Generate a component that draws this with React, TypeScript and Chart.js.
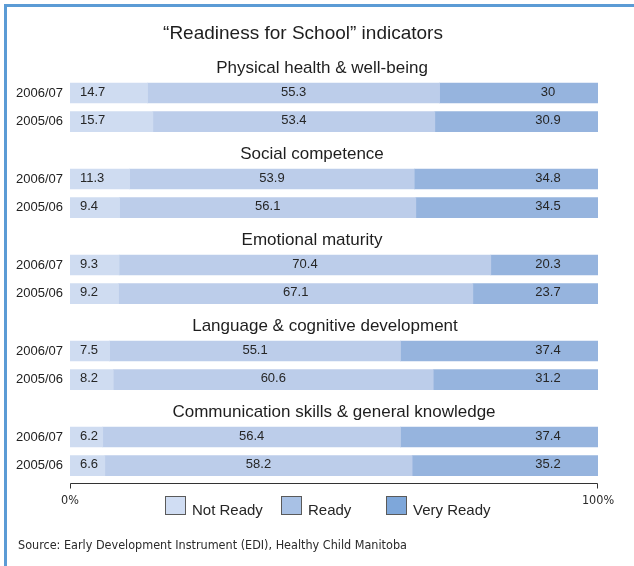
import React, { useEffect, useRef } from 'react';
import { Chart, registerables } from 'chart.js';

Chart.register(...registerables);

const chartTitle = '\u201CReadiness for School\u201D indicators';
const groups = [
  'Physical health & well-being',
  'Social competence',
  'Emotional maturity',
  'Language & cognitive development',
  'Communication skills & general knowledge',
];
const groupTitleCenters = [322, 312, 312, 325, 334];
const years = ['2006/07', '2005/06'];
const seriesNames = ['Not Ready', 'Ready', 'Very Ready'];
// rows in order: group1 2006/07, group1 2005/06, group2 2006/07, ...
const notReady = [14.7, 15.7, 11.3, 9.4, 9.3, 9.2, 7.5, 8.2, 6.2, 6.6];
const ready = [55.3, 53.4, 53.9, 56.1, 70.4, 67.1, 55.1, 60.6, 56.4, 58.2];
const veryReady = [30, 30.9, 34.8, 34.5, 20.3, 23.7, 37.4, 31.2, 37.4, 35.2];
const axisTicks = [0, 100];
const sourceText = 'Source: Early Development Instrument (EDI), Healthy Child Manitoba';

const barColors = ['#cfdcf1', '#bccdea', '#96b4de'];
const legendColors = ['#d0ddf3', '#a8c1e5', '#7ea7da'];
const FONT = "'Liberation Sans', Arial, sans-serif";
const SMALL_FONT = "'DejaVu Sans Condensed', 'DejaVu Sans', sans-serif";

// Build slot arrays: each group gets a title slot followed by one slot per year
const slotLabels: string[] = [];
const slotGroup: (number | null)[] = [];
const buildSeries = (vals: number[]) => {
  const out: (number | null)[] = [];
  groups.forEach((_, g) => {
    out.push(null);
    years.forEach((_, y) => out.push(vals[g * years.length + y]));
  });
  return out;
};
groups.forEach((_, g) => {
  slotLabels.push('');
  slotGroup.push(g);
  years.forEach((yr) => {
    slotLabels.push(yr);
    slotGroup.push(null);
  });
});
const seriesValues = [notReady, ready, veryReady];

const overlayPlugin = {
  id: 'overlay',
  afterDraw(chart: any) {
    const { ctx, chartArea } = chart;
    const xs = chart.scales.x;
    const ys = chart.scales.y;
    ctx.save();
    // main title
    ctx.fillStyle = '#1e1e1e';
    ctx.textAlign = 'center';
    ctx.textBaseline = 'middle';
    ctx.font = `19px ${FONT}`;
    ctx.fillText(chartTitle, 303, 34);
    // group titles
    ctx.font = `17px ${FONT}`;
    slotGroup.forEach((g, i) => {
      if (g === null) return;
      const y = ys.getPixelForValue(i) + 3.5;
      ctx.fillText(groups[g], groupTitleCenters[g], y);
    });
    // data labels
    ctx.font = `13px ${FONT}`;
    ctx.fillStyle = '#262626';
    chart.data.datasets.forEach((ds: any, di: number) => {
      const meta = chart.getDatasetMeta(di);
      meta.data.forEach((el: any, i: number) => {
        const v = ds.data[i];
        if (v === null || v === undefined) return;
        const props = el.getProps(['x', 'y', 'base'], true);
        const y = props.y - 1;
        const txt = String(v);
        if (di === 0) {
          ctx.textAlign = 'left';
          ctx.fillText(txt, props.base + 10, y);
        } else if (di === 1) {
          ctx.textAlign = 'center';
          ctx.fillText(txt, (props.base + props.x) / 2, y);
        } else {
          ctx.textAlign = 'center';
          ctx.fillText(txt, chartArea.right - 50, y);
        }
      });
    });
    // axis line with end ticks
    const ay = Math.round(chartArea.bottom + 2.5) + 0.5;
    const x0 = Math.round(xs.getPixelForValue(axisTicks[0])) + 0.5;
    const x1 = Math.round(xs.getPixelForValue(axisTicks[axisTicks.length - 1])) - 0.5;
    ctx.strokeStyle = '#333333';
    ctx.lineWidth = 1;
    ctx.beginPath();
    ctx.moveTo(x0, ay + 5);
    ctx.lineTo(x0, ay);
    ctx.lineTo(x1, ay);
    ctx.lineTo(x1, ay + 5);
    ctx.stroke();
    // legend
    const boxX = [165, 281, 386];
    ctx.font = `15px ${FONT}`;
    ctx.textAlign = 'left';
    ctx.textBaseline = 'alphabetic';
    seriesNames.forEach((name, i) => {
      ctx.fillStyle = legendColors[i];
      ctx.fillRect(boxX[i], 496, 21, 19);
      ctx.strokeStyle = '#5a5a5a';
      ctx.strokeRect(boxX[i] + 0.5, 496.5, 20, 18);
      ctx.fillStyle = '#262626';
      ctx.fillText(name, boxX[i] + 27, 515);
    });
    // source
    ctx.font = `12.5px ${SMALL_FONT}`;
    ctx.fillStyle = '#2a2a2a';
    ctx.textBaseline = 'middle';
    ctx.fillText(sourceText, 18, 546);
    ctx.restore();
  },
};

export default function App() {
  const canvasRef = useRef<HTMLCanvasElement | null>(null);
  useEffect(() => {
    if (!canvasRef.current) return;
    const chart = new Chart(canvasRef.current, {
      type: 'bar',
      data: {
        labels: slotLabels,
        datasets: seriesNames.map((name, i) => ({
          label: name,
          data: buildSeries(seriesValues[i]),
          backgroundColor: barColors[i],
          borderWidth: 0,
          barThickness: 20,
        })),
      },
      options: {
        indexAxis: 'y',
        animation: false,
        responsive: false,
        devicePixelRatio: 1,
        layout: { padding: { top: 50, bottom: 46, left: 8, right: 36 } },
        plugins: {
          legend: { display: false },
          title: { display: false },
          tooltip: { enabled: false },
        },
        scales: {
          x: {
            stacked: true,
            min: 0,
            max: 100,
            afterBuildTicks: (s: any) => {
              s.ticks = axisTicks.map((v) => ({ value: v }));
            },
            afterFit: (s: any) => {
              s.height = 40;
            },
            ticks: {
              callback: (v: any) => `${v}%`,
              font: { family: SMALL_FONT, size: 12.5 },
              color: '#2a2a2a',
              padding: 13,
              maxRotation: 0,
              autoSkip: false,
            },
            grid: { display: false, drawTicks: false },
            border: { display: false },
          },
          y: {
            stacked: true,
            afterFit: (s: any) => {
              s.width = 62;
            },
            ticks: {
              font: { family: FONT, size: 13 },
              color: '#222222',
              padding: 7,
              autoSkip: false,
            },
            grid: { display: false, drawTicks: false },
            border: { display: false },
          },
        },
      } as any,
      plugins: [overlayPlugin],
    });
    return () => chart.destroy();
  }, []);

  return (
    <div style={{ position: 'fixed', left: 0, top: 0, width: 634, height: 566, background: '#ffffff', overflow: 'hidden' }}>
      <div
        style={{
          position: 'absolute',
          left: 4,
          top: 4,
          width: 660,
          height: 600,
          borderLeft: '3px solid #5b9bd5',
          borderTop: '3px solid #5b9bd5',
          boxSizing: 'border-box',
        }}
      />
      <canvas ref={canvasRef} width={634} height={566} style={{ position: 'absolute', left: 0, top: 0, width: 634, height: 566 }} />
    </div>
  );
}
